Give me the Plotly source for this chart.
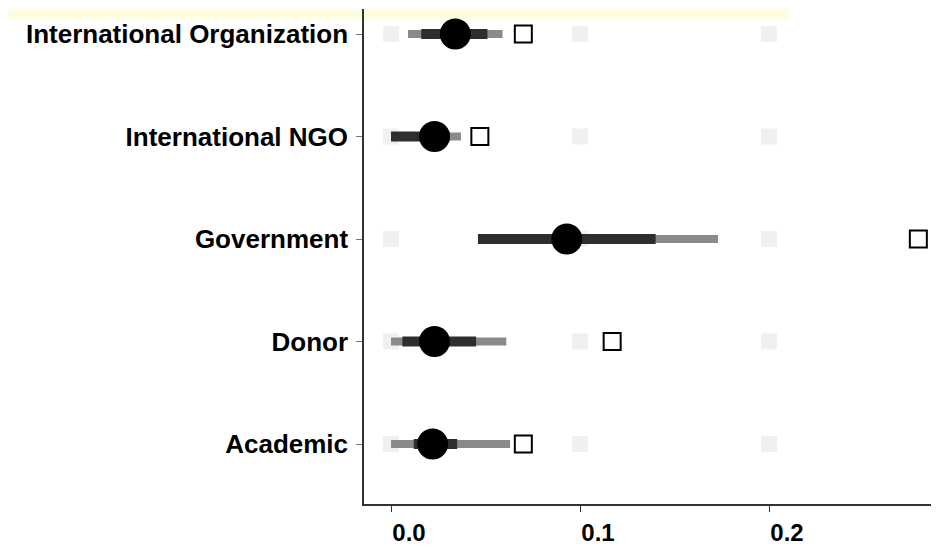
import plotly.graph_objects as go

categories = ["International Organization", "International NGO", "Government", "Donor", "Academic"]
median = [0.034, 0.023, 0.093, 0.023, 0.022]
inner_lo = [0.016, 0.000, 0.046, 0.006, 0.012]
inner_hi = [0.051, 0.031, 0.140, 0.045, 0.035]
outer_lo = [0.009, 0.000, 0.046, 0.000, 0.000]
outer_hi = [0.059, 0.037, 0.173, 0.061, 0.063]
observed = [0.070, 0.047, 0.279, 0.117, 0.070]
x_ticks = [0.0, 0.1, 0.2]
x_ticklabels = ["0.0", "0.1", "0.2"]

def segs(lo, hi):
    xs, ys = [], []
    for c, a, b in zip(categories, lo, hi):
        xs += [a, b, None]
        ys += [c, c, None]
    return xs, ys

fig = go.Figure()

gx, gy = [], []
for c in categories:
    for t in x_ticks:
        gx.append(t)
        gy.append(c)
fig.add_trace(go.Scatter(x=gx, y=gy, mode="markers",
                         marker=dict(symbol="square", size=16, color="#f0f0f0"),
                         hoverinfo="skip", showlegend=False))

ox, oy = segs(outer_lo, outer_hi)
fig.add_trace(go.Scatter(x=ox, y=oy, mode="lines",
                         line=dict(color="#8a8a8a", width=8), showlegend=False))
ix, iy = segs(inner_lo, inner_hi)
fig.add_trace(go.Scatter(x=ix, y=iy, mode="lines",
                         line=dict(color="#2e2e2e", width=10), showlegend=False))
fig.add_trace(go.Scatter(x=median, y=categories, mode="markers",
                         marker=dict(symbol="circle", size=31, color="black"),
                         showlegend=False))
fig.add_trace(go.Scatter(x=observed, y=categories, mode="markers",
                         marker=dict(symbol="square-open", size=17, color="black",
                                     line=dict(width=2, color="black")),
                         showlegend=False))

fig.add_shape(type="rect", xref="paper", yref="paper",
              x0=-0.634, x1=0.739, y0=0.98, y1=1.0,
              fillcolor="#fefde0", line=dict(width=0), layer="below")

fig.update_layout(
    width=931, height=543,
    margin=dict(l=356, r=1, t=1, b=47),
    paper_bgcolor="white", plot_bgcolor="rgba(0,0,0,0)",
    font=dict(family="Liberation Sans, Arial, sans-serif", color="black"),
    xaxis=dict(range=[-0.0143, 0.2894], tickvals=x_ticks, ticktext=x_ticklabels,
               showgrid=False, zeroline=False, showline=True, linecolor="#333333",
               linewidth=1.5, ticks="outside", ticklen=6, tickcolor="#333333",
               tickfont=dict(size=24, family="Liberation Sans, Arial, sans-serif"),
               ticklabelshift=18),
    yaxis=dict(type="category", categoryorder="array",
               categoryarray=list(reversed(categories)),
               range=[-0.585, 4.244], showgrid=False, zeroline=False,
               showline=True, linecolor="#333333", linewidth=1.5,
               ticks="outside", ticklen=6, tickcolor="#777777",
               ticklabelstandoff=3,
               tickfont=dict(size=26, family="Liberation Sans, Arial, sans-serif")),
)
fig.for_each_xaxis(lambda a: a.update(tickfont_weight="bold"))
fig.for_each_yaxis(lambda a: a.update(tickfont_weight="bold"))

fig.write_html("out.html")
